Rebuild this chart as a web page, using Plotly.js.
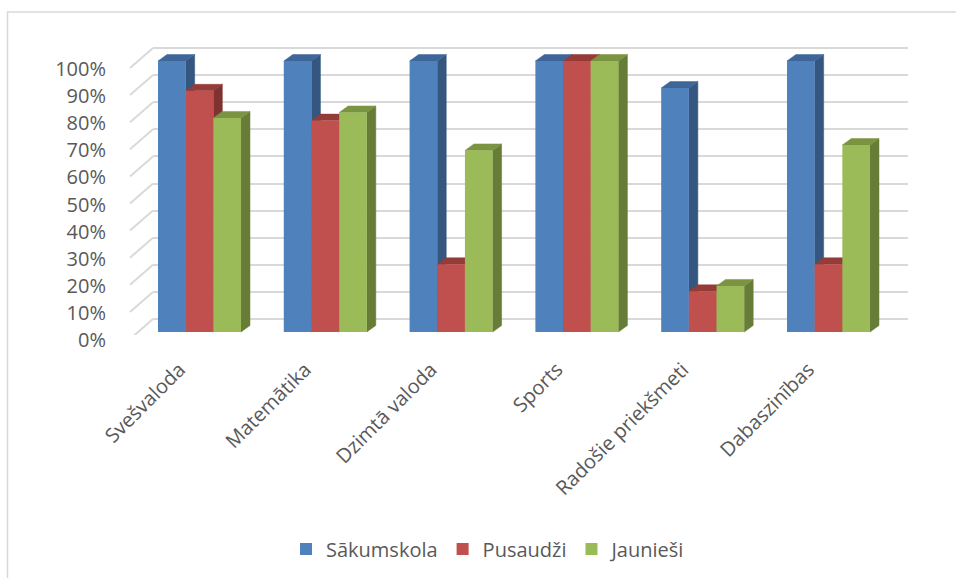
<!DOCTYPE html>
<html><head><meta charset="utf-8">
<script src="https://cdn.plot.ly/plotly-3.0.1.min.js"></script>
<style>html,body{margin:0;padding:0;background:#fff}#chart{width:956px;height:578px}</style>
</head><body><div id="chart"></div>
<script>
// ---- data ----
const categories = ['Svešvaloda', 'Matemātika', 'Dzimtā valoda', 'Sports', 'Radošie priekšmeti', 'Dabaszinības'];
const seriesNames = ['Sākumskola', 'Pusaudži', 'Jaunieši'];
const sakumskola = [100, 100, 100, 100, 90, 100];
const pusaudzi = [89, 78, 25, 100, 15, 25];
const jauniesi = [79, 81, 67, 100, 17, 69];
const yTickValues = [0, 10, 20, 30, 40, 50, 60, 70, 80, 90, 100];
const yTickLabels = yTickValues.map(v => v + '%');

// ---- layout helpers ----
const W = 956, H = 578;
const fx = p => p / W, fy = p => 1 - p / H;
const K = 2.71;                       // px per percent
const PLOT_L = 136.6, PLOT_R = 891.4; // category band extent (px)
const CAT_PX = (PLOT_R - PLOT_L) / categories.length;
const GRID_ZERO = 319, BAR_ZERO = 332, TOP_PX = 30;
const GRID_BOTTOM = 335, BAR_BOTTOM = 345;
const BARGAP = 0.34;
const BW = (1 - BARGAP) / seriesNames.length;
const DX = 9 / CAT_PX, DY = 6.5 / K;  // depth offset of bars
const FONT = '"Open Sans", sans-serif';
const TXT = '#595959';

const seriesValues = [sakumskola, pusaudzi, jauniesi];
const frontColors = ['#4F81BD', '#C0504D', '#9BBB59'];
const sideColors = ['#35567F', '#7F3230', '#677D37'];
const topColors = ['#3E6698', '#953B38', '#7A9442'];

const traces = [];
// depth faces (drawn first, underneath the front faces)
seriesValues.forEach((vals, s) => {
  const sx = [], sy = [], tx = [], ty = [];
  vals.forEach((v, j) => {
    const L = j - (1 - BARGAP) / 2 + s * BW, R = L + BW;
    sx.push(R, R, R + DX, R + DX, R, null);
    sy.push(0, v, v + DY, DY, 0, null);
    tx.push(L, R, R + DX, L + DX, L, null);
    ty.push(v, v, v + DY, v + DY, v, null);
  });
  traces.push({type: 'scatter', x: sx, y: sy, xaxis: 'x2', yaxis: 'y2', mode: 'lines', fill: 'toself',
    fillcolor: sideColors[s], line: {color: sideColors[s], width: 0.5}, showlegend: false, hoverinfo: 'skip'});
  traces.push({type: 'scatter', x: tx, y: ty, xaxis: 'x2', yaxis: 'y2', mode: 'lines', fill: 'toself',
    fillcolor: topColors[s], line: {color: topColors[s], width: 0.5}, showlegend: false, hoverinfo: 'skip'});
});
// front faces
seriesValues.forEach((vals, s) => {
  traces.push({type: 'bar', name: seriesNames[s], x: categories.map((c, j) => j), y: vals,
    xaxis: 'x3', yaxis: 'y3', marker: {color: frontColors[s], line: {width: 0}},
    hovertemplate: '%{y}%<extra>' + seriesNames[s] + '</extra>'});
});

const barRange = [(BAR_ZERO - BAR_BOTTOM) / K, (BAR_ZERO - TOP_PX) / K];
const xRange = [-0.5, categories.length - 0.5];

// left-wall diagonal lines
const shapes = yTickValues.map(v => ({type: 'line', xref: 'paper', yref: 'y',
  x0: fx(130), x1: fx(153), y0: v - 20 / K, y1: v, line: {color: '#d9d9d9', width: 2}, layer: 'below'}));
shapes.push({type: 'path', xref: 'paper', yref: 'paper',
  path: `M ${fx(956)} ${fy(12)} L ${fx(7.5)} ${fy(12)} L ${fx(7.5)} ${fy(578)}`,
  line: {color: '#d9d9d9', width: 1.5}});

const layout = {
  width: W, height: H, margin: {l: 0, r: 0, t: 0, b: 0},
  paper_bgcolor: '#fff', plot_bgcolor: 'rgba(0,0,0,0)',
  font: {family: FONT, size: 20, color: TXT},
  barmode: 'group', bargap: BARGAP, bargroupgap: 0,
  showlegend: true,
  legend: {orientation: 'h', x: fx(286), xanchor: 'left', y: fy(549), yanchor: 'middle',
    font: {family: FONT, size: 20, color: TXT}, itemwidth: 30, traceorder: 'normal'},
  // back wall gridlines
  xaxis: {domain: [fx(153), fx(908)], range: [0, 1], visible: false, fixedrange: true},
  yaxis: {domain: [fy(GRID_BOTTOM), fy(TOP_PX)], anchor: 'x', range: [(GRID_ZERO - GRID_BOTTOM) / K, (GRID_ZERO - TOP_PX) / K],
    tickvals: yTickValues, showticklabels: false, showgrid: true, gridcolor: '#d9d9d9', gridwidth: 2,
    zeroline: false, showline: false, ticks: '', fixedrange: true},
  // faces subplot with category + percent labels
  xaxis2: {domain: [fx(PLOT_L), fx(PLOT_R)], anchor: 'y2', range: xRange, tickvals: categories.map((c, j) => j),
    ticktext: categories, tickangle: -45, showgrid: false, zeroline: false, showline: false, ticks: '',
    ticklabelshift: -20, ticklabelstandoff: 8,
    tickfont: {family: FONT, size: 20, color: TXT}, fixedrange: true},
  yaxis2: {domain: [fy(BAR_BOTTOM), fy(TOP_PX)], anchor: 'free', position: fx(106), range: barRange,
    tickvals: yTickValues, ticktext: yTickLabels, showgrid: false, zeroline: false, showline: false, ticks: '',
    ticklabelshift: 8, tickfont: {family: FONT, size: 20, color: TXT}, fixedrange: true},
  // bars overlay
  xaxis3: {overlaying: 'x2', range: xRange, visible: false, fixedrange: true},
  yaxis3: {overlaying: 'y2', range: barRange, visible: false, fixedrange: true},
  shapes: shapes
};

Plotly.newPlot('chart', traces, layout, {displayModeBar: false, staticPlot: false});
</script></body></html>
